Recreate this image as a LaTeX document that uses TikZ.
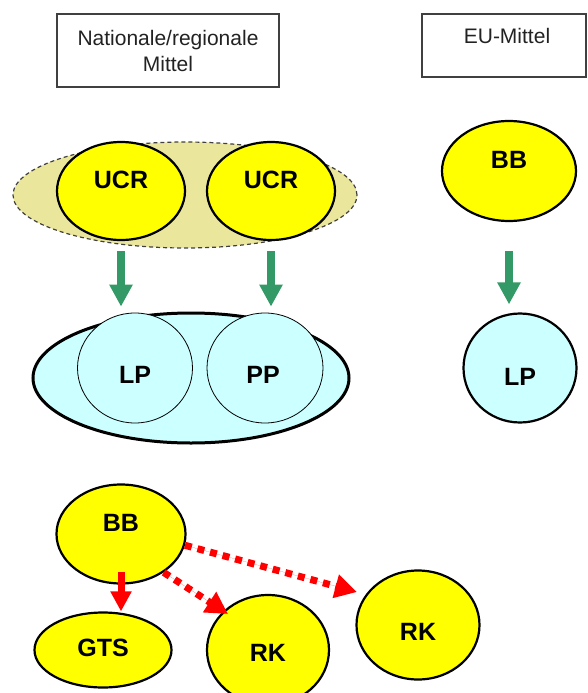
\documentclass[tikz,border=0pt]{standalone}
\usepackage{fontspec}
\setmainfont{Liberation Sans}
\usetikzlibrary{shapes.geometric,arrows.meta}
\definecolor{yel}{RGB}{255,255,0}
\definecolor{khaki}{RGB}{234,230,155}
\definecolor{lcyan}{RGB}{204,255,255}
\definecolor{grn}{RGB}{51,153,102}
\definecolor{boxgray}{RGB}{64,64,64}
\definecolor{txtgray}{RGB}{34,34,34}
\tikzset{
  hdrbox/.style={draw=boxgray, line width=1.3pt, rectangle, inner sep=0pt, font=\fontsize{21}{26}\selectfont, text=txtgray, align=center},
  hdrtxt/.style={font=\fontsize{21}{26}\selectfont, text=txtgray},
  yelnode/.style={ellipse, draw=black, line width=2.2pt, fill=yel, inner sep=0pt},
  cyannode/.style={ellipse, draw=black, line width=2.2pt, fill=lcyan, inner sep=0pt},
  thincyan/.style={ellipse, draw=black, line width=0.8pt, fill=lcyan, inner sep=0pt},
  grpdash/.style={ellipse, draw=boxgray, line width=1.2pt, dash pattern=on 4pt off 3pt, fill=khaki, inner sep=0pt},
  lbl/.style={font=\bfseries\fontsize{25}{29}\selectfont, text=black},
  garrow/.style={draw=grn, line width=8pt, -{Triangle[width=22pt,length=22pt]}, fill=grn},
  rarrow/.style={draw=red, line width=7pt, -{Triangle[width=20pt,length=20pt]}, fill=red},
  rdotted/.style={draw=red, line width=7pt, -{Triangle[width=23pt,length=22pt]}, fill=red, dash pattern=on 7pt off 6pt}
}
\begin{document}
\begin{tikzpicture}[x=1pt,y=-1pt]
\useasboundingbox (0,0) rectangle (588,693);
% header boxes
\node[hdrbox, minimum width=222pt, minimum height=73pt] (hdr1) at (168,50.5) {Nationale/regionale\\Mittel};
\node[hdrbox, minimum width=164pt, minimum height=63pt, label={[hdrtxt,yshift=9.5pt,xshift=3pt]center:EU-Mittel}] (hdr2) at (504,45.5) {};
% UCR group
\node[grpdash, minimum width=344pt, minimum height=106pt] (ucrgrp) at (185,195) {};
\node[yelnode, minimum width=128pt, minimum height=98pt, label={[lbl,yshift=11pt]center:UCR}] (ucr1) at (121,191) {};
\node[yelnode, minimum width=128pt, minimum height=98pt, label={[lbl,yshift=11pt]center:UCR}] (ucr2) at (271,191) {};
% LP/PP group
\node[cyannode, line width=3pt, minimum width=316pt, minimum height=130pt] (lpgrp) at (191,378) {};
\node[thincyan, minimum width=115pt, minimum height=110pt, label={[lbl,yshift=-7pt]center:LP}] (lp1) at (135,368) {};
\node[thincyan, minimum width=116pt, minimum height=110pt, label={[lbl,yshift=-7pt,xshift=-2pt]center:PP}] (pp) at (265,368) {};
% EU column
\node[yelnode, minimum width=134pt, minimum height=100pt, label={[lbl,yshift=11pt]center:BB}] (bb1) at (509,171) {};
\node[cyannode, minimum width=113pt, minimum height=109pt, label={[lbl,yshift=-9pt]center:LP}] (lp2) at (520,368) {};
% green arrows
\draw[garrow, shorten <=10pt, shorten >=6pt] (ucr1.south) -- (ucr1.south |- lp1.north);
\draw[garrow, shorten <=10pt, shorten >=6pt] (ucr2.south) -- (ucr2.south |- pp.north);
\draw[garrow, shorten <=29pt, shorten >=8pt] (bb1.south) -- (bb1.south |- lp2.north);
% bottom part
\node[yelnode, minimum width=129pt, minimum height=99pt, label={[lbl,yshift=11pt]center:BB}] (bb2) at (121,534) {};
\node[yelnode, minimum width=137pt, minimum height=75pt, label={[lbl,yshift=2pt]center:GTS}] (gts) at (103,650) {};
\node[yelnode, minimum width=122pt, minimum height=110pt, label={[lbl,yshift=-3pt]center:RK}] (rk1) at (268,650) {};
\node[yelnode, minimum width=123pt, minimum height=109pt, label={[lbl,yshift=-7pt]center:RK}] (rk2) at (418,625) {};
\coordinate (t1) at (357,592);
\coordinate (t2) at (228,614);
\draw[rarrow, shorten <=38pt] (bb2.center) -- (bb2.center |- gts.north);
\draw[rdotted] (bb2.-10) -- (t1);
\draw[rdotted] (bb2.-42) -- (t2);
\end{tikzpicture}
\end{document}
